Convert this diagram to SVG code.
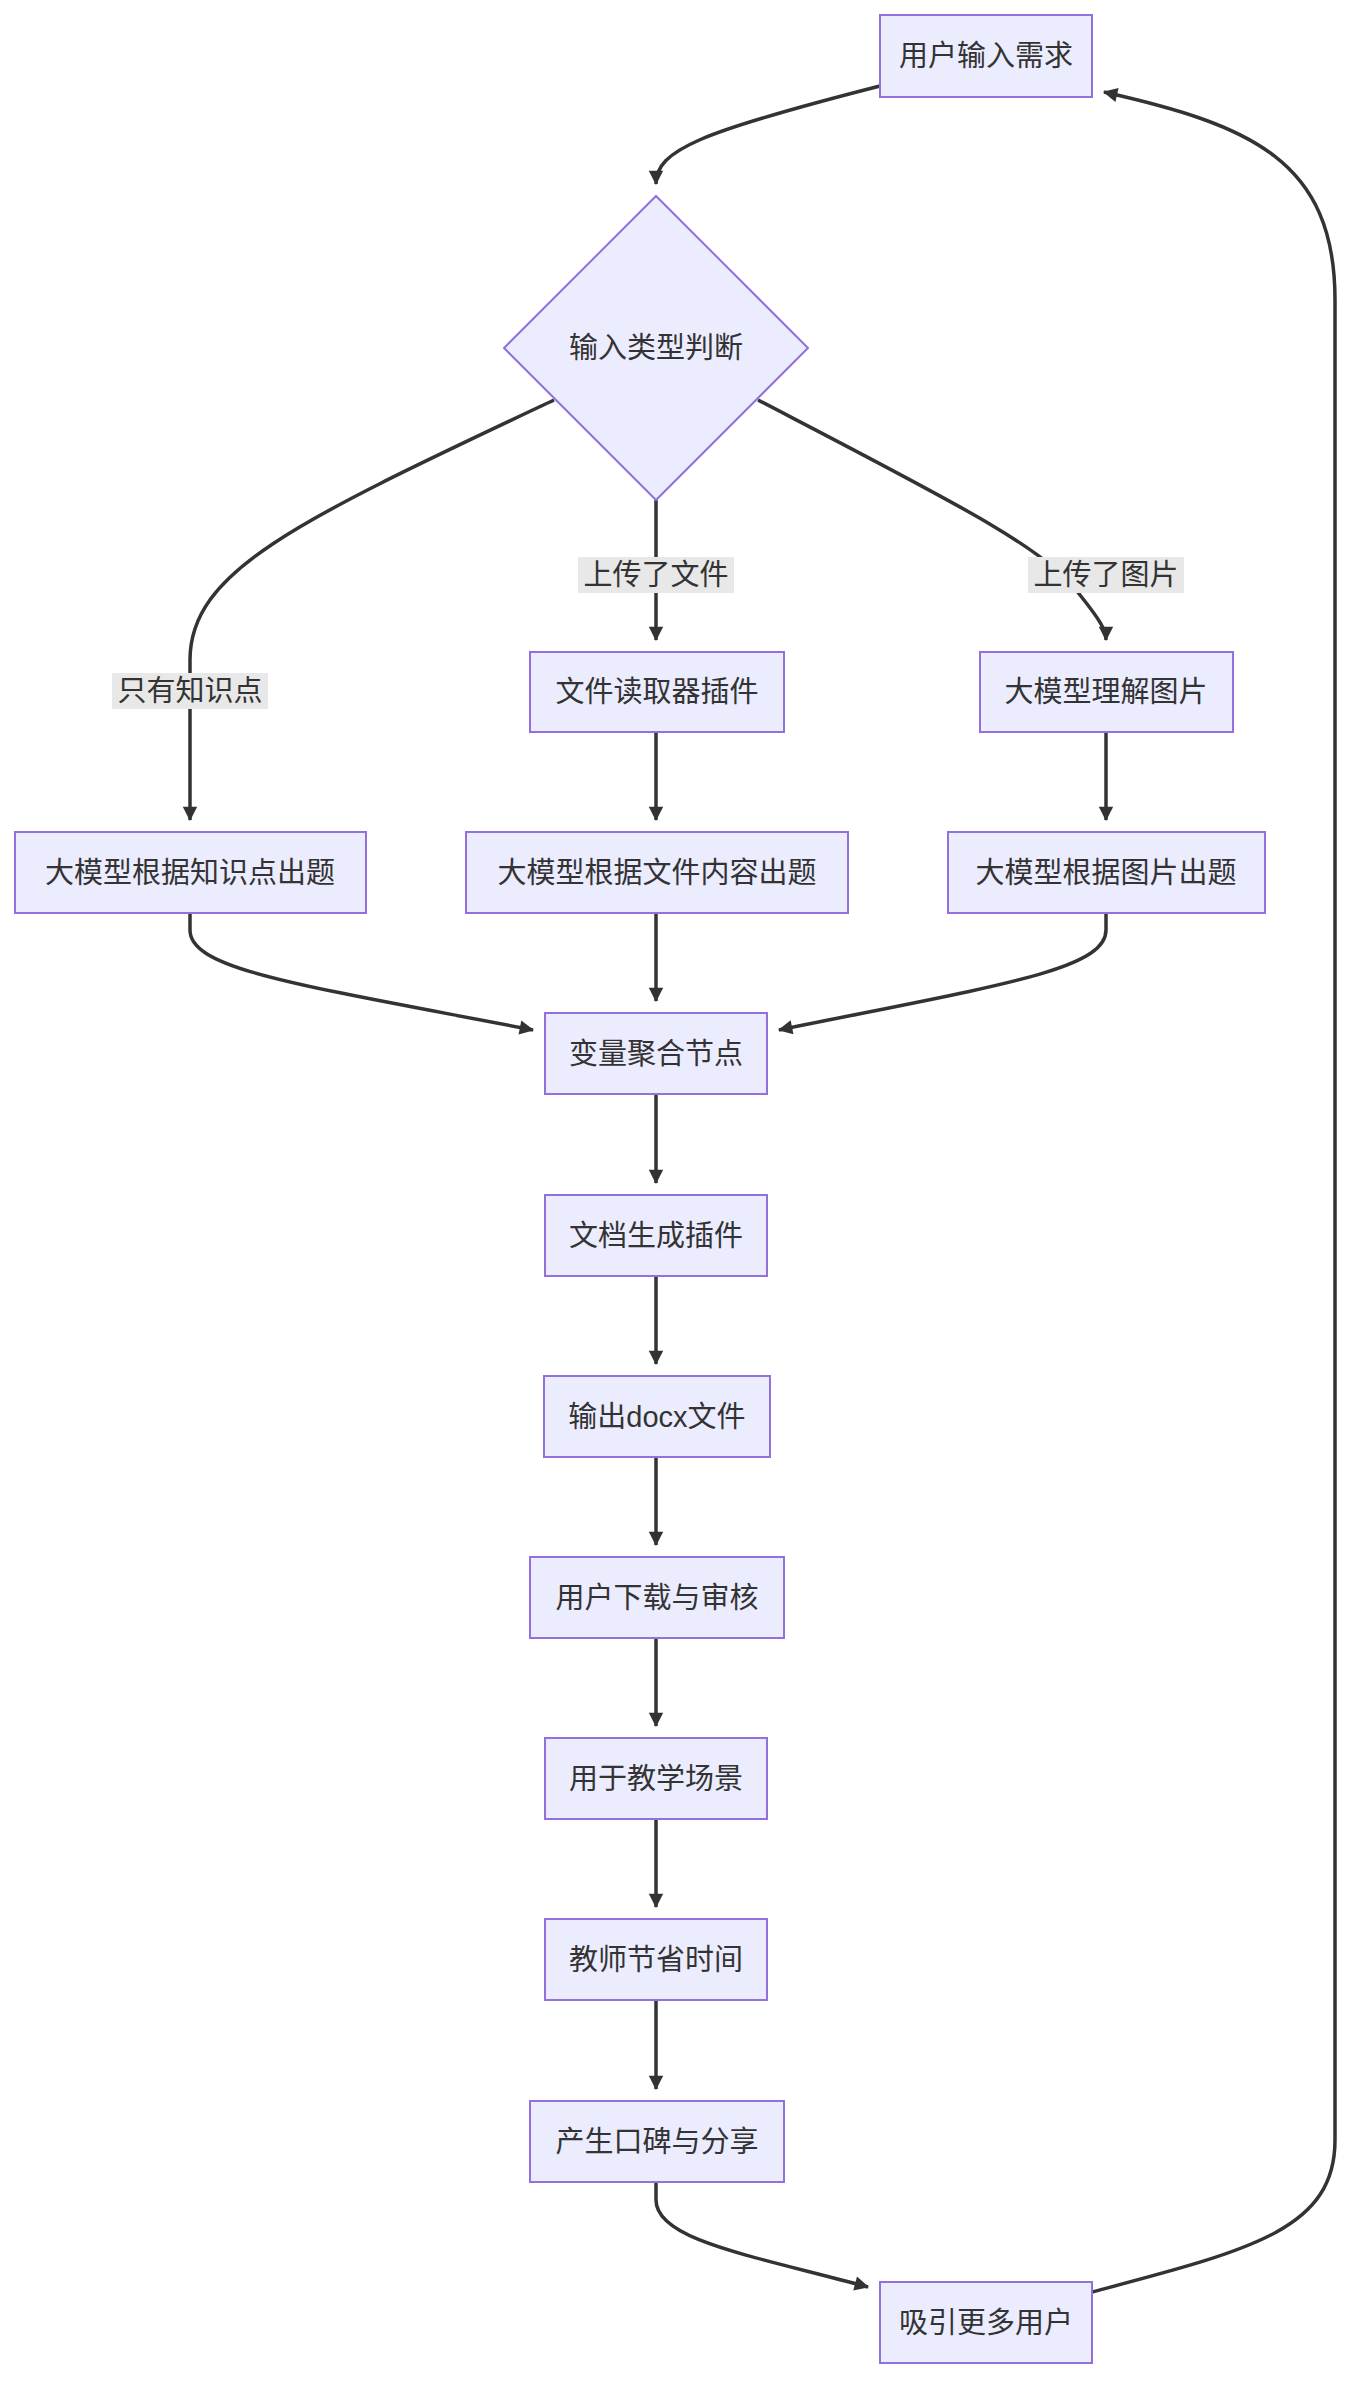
<svg xmlns="http://www.w3.org/2000/svg" width="1352" height="2382" viewBox="0 0 1352 2382">
<style>
.n{fill:#ECECFF;stroke:#9370DB;stroke-width:2}
.t{font-family:"Liberation Sans","Noto Sans CJK SC",sans-serif;font-size:29px;fill:#333;text-anchor:middle;dominant-baseline:central}
.e{fill:none;stroke:#333;stroke-width:3.5;marker-end:url(#a)}
.lb{fill:#e8e8e8}
</style>
<defs><marker id="a" viewBox="0 0 10 10" refX="9" refY="5" markerWidth="6" markerHeight="6" orient="auto" markerUnits="userSpaceOnUse" style="overflow:visible"><path d="M0,0 L10,5 L0,10 z" fill="#333" transform="scale(2.4) translate(-5.5,-2.9)"/></marker></defs>
<rect width="1352" height="2382" fill="#fff"/>
<g id="edges">
<path class="e" d="M880,86 C700,132 656,150 656,184"/>
<path class="e" d="M554,400 C300,520 190,570 190,660 L190,820"/>
<path class="e" d="M656,500 L656,640"/>
<path class="e" d="M758,400 C950,500 1050,550 1080,595 C1100,620 1106,630 1106,640"/>
<path class="e" d="M656,732 L656,820"/>
<path class="e" d="M1106,732 L1106,820"/>
<path class="e" d="M190,913 L190,930 C190,970 300,985 533,1030"/>
<path class="e" d="M656,913 L656,1001"/>
<path class="e" d="M1106,913 L1106,930 C1106,970 1000,985 779,1030"/>
<path class="e" d="M656,1094 L656,1183"/>
<path class="e" d="M656,1276 L656,1364"/>
<path class="e" d="M656,1457 L656,1545"/>
<path class="e" d="M656,1638 L656,1726"/>
<path class="e" d="M656,1819 L656,1907"/>
<path class="e" d="M656,2000 L656,2089"/>
<path class="e" d="M656,2182 L656,2200 C656,2240 750,2255 868,2287"/>
<path class="e" d="M1092,2292 C1250,2250 1335,2230 1335,2140 L1335,300 C1335,160 1250,125 1104,92"/>
<rect class="lb" x="578" y="557" width="156" height="36"/><text class="t" x="656" y="575">上传了文件</text>
<rect class="lb" x="1028" y="557" width="156" height="36"/><text class="t" x="1106" y="575">上传了图片</text>
<rect class="lb" x="112" y="673" width="156" height="36"/><text class="t" x="190" y="691">只有知识点</text>
</g>
<g id="n1"><rect class="n" x="880" y="15" width="212" height="82"/><text class="t" x="986" y="56">用户输入需求</text></g>
<g id="n2"><polygon class="n" points="656,196 808,348 656,500 504,348"/><text class="t" x="656" y="348">输入类型判断</text></g>
<g id="n3"><rect class="n" x="530" y="652" width="254" height="80"/><text class="t" x="657" y="692">文件读取器插件</text></g>
<g id="n4"><rect class="n" x="980" y="652" width="253" height="80"/><text class="t" x="1106" y="692">大模型理解图片</text></g>
<g id="n5"><rect class="n" x="15" y="832" width="351" height="81"/><text class="t" x="190" y="873">大模型根据知识点出题</text></g>
<g id="n6"><rect class="n" x="466" y="832" width="382" height="81"/><text class="t" x="657" y="873">大模型根据文件内容出题</text></g>
<g id="n7"><rect class="n" x="948" y="832" width="317" height="81"/><text class="t" x="1106" y="873">大模型根据图片出题</text></g>
<g id="n8"><rect class="n" x="545" y="1013" width="222" height="81"/><text class="t" x="656" y="1054">变量聚合节点</text></g>
<g id="n9"><rect class="n" x="545" y="1195" width="222" height="81"/><text class="t" x="656" y="1236">文档生成插件</text></g>
<g id="n10"><rect class="n" x="544" y="1376" width="226" height="81"/><text class="t" x="657" y="1417">输出docx文件</text></g>
<g id="n11"><rect class="n" x="530" y="1557" width="254" height="81"/><text class="t" x="657" y="1598">用户下载与审核</text></g>
<g id="n12"><rect class="n" x="545" y="1738" width="222" height="81"/><text class="t" x="656" y="1779">用于教学场景</text></g>
<g id="n13"><rect class="n" x="545" y="1919" width="222" height="81"/><text class="t" x="656" y="1960">教师节省时间</text></g>
<g id="n14"><rect class="n" x="530" y="2101" width="254" height="81"/><text class="t" x="657" y="2142">产生口碑与分享</text></g>
<g id="n15"><rect class="n" x="880" y="2282" width="212" height="81"/><text class="t" x="986" y="2323">吸引更多用户</text></g>
</svg>
